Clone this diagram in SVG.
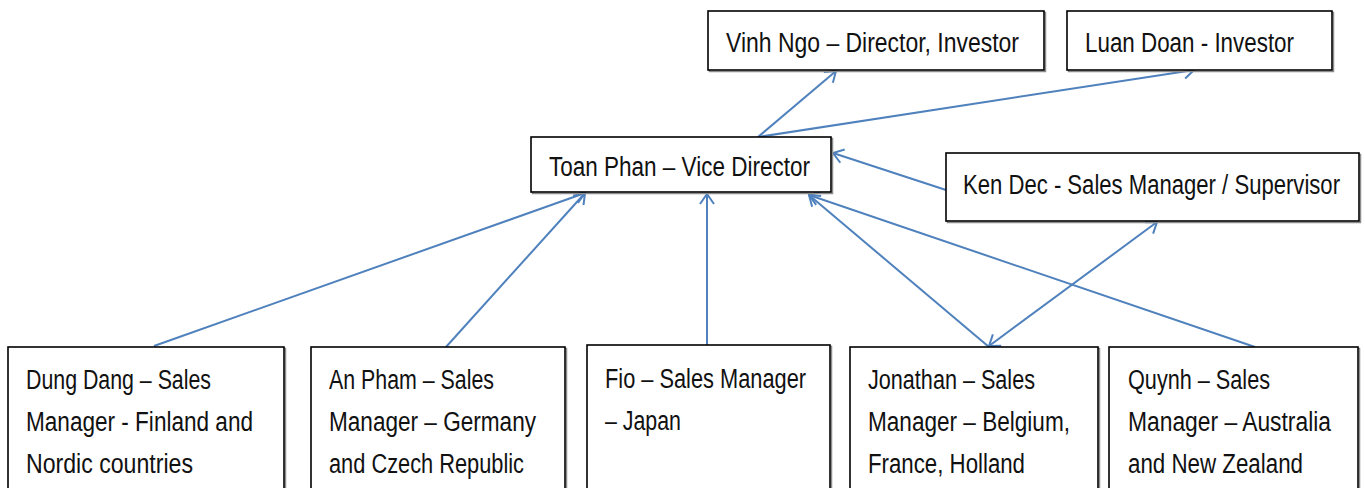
<svg xmlns="http://www.w3.org/2000/svg" width="1365" height="488" viewBox="0 0 1365 488">
<style>
  .box { fill: #ffffff; stroke: #000000; stroke-width: 1.6; }
  .shadow { fill: none; stroke: #8c8c8c; stroke-width: 1.5; }
  .t { font-family: "Liberation Sans", Arial, sans-serif; font-size: 22px; fill: #111111; }
  .c { stroke: #4F81BD; stroke-width: 2; fill: none; }
</style>
<defs>
  <marker id="arr" viewBox="0 0 12 16" refX="11" refY="8" markerWidth="12" markerHeight="16" markerUnits="userSpaceOnUse" orient="auto-start-reverse">
    <path d="M1,1 L11,8 L1,15" fill="none" stroke="#4F81BD" stroke-width="2"/>
  </marker>
</defs>
<rect width="1365" height="488" fill="#ffffff"/>

<g id="connectors">
  <line class="c" x1="758" y1="137" x2="836" y2="71" marker-end="url(#arr)"/>
  <line class="c" x1="758" y1="137" x2="1194" y2="70" marker-end="url(#arr)"/>
  <line class="c" x1="946" y1="190" x2="833" y2="153" marker-end="url(#arr)"/>
  <line class="c" x1="154" y1="346" x2="585" y2="193" marker-end="url(#arr)"/>
  <line class="c" x1="446" y1="347" x2="585" y2="193" marker-end="url(#arr)"/>
  <line class="c" x1="707" y1="345" x2="707" y2="194" marker-end="url(#arr)"/>
  <line class="c" x1="989" y1="347" x2="809" y2="195" marker-end="url(#arr)"/>
  <line class="c" x1="1255" y1="347" x2="809" y2="195" marker-end="url(#arr)"/>
  <line class="c" x1="989" y1="346" x2="1157" y2="222" marker-start="url(#arr)" marker-end="url(#arr)"/>
</g>

<g id="node-vinh">
  <rect class="shadow" x="709.5" y="12.5" width="336" height="59"/>
  <rect class="box" x="708" y="11" width="336" height="59"/>
  <text class="t" transform="translate(726,52) scale(1,1.227)" textLength="293" lengthAdjust="spacingAndGlyphs">Vinh Ngo – Director, Investor</text>
</g>

<g id="node-luan">
  <rect class="shadow" x="1068.5" y="12.5" width="265" height="59"/>
  <rect class="box" x="1067" y="11" width="265" height="59"/>
  <text class="t" transform="translate(1085,52) scale(1,1.227)" textLength="209" lengthAdjust="spacingAndGlyphs">Luan Doan - Investor</text>
</g>

<g id="node-toan">
  <rect class="shadow" x="532.5" y="138.5" width="300" height="55"/>
  <rect class="box" x="531" y="137" width="300" height="55"/>
  <text class="t" transform="translate(549,176) scale(1,1.227)" textLength="261" lengthAdjust="spacingAndGlyphs">Toan Phan – Vice Director</text>
</g>

<g id="node-ken">
  <rect class="shadow" x="947.5" y="154.5" width="413" height="68"/>
  <rect class="box" x="946" y="153" width="413" height="68"/>
  <text class="t" transform="translate(963,194) scale(1,1.227)" textLength="377" lengthAdjust="spacingAndGlyphs">Ken Dec - Sales Manager / Supervisor</text>
</g>

<g id="node-dung">
  <rect class="shadow" x="9.5" y="348.5" width="276" height="160"/>
  <rect class="box" x="8" y="347" width="276" height="160"/>
  <text class="t" transform="translate(26,389) scale(1,1.227)" textLength="185" lengthAdjust="spacingAndGlyphs">Dung Dang – Sales</text>
  <text class="t" transform="translate(26,431) scale(1,1.227)" textLength="227" lengthAdjust="spacingAndGlyphs">Manager - Finland and</text>
  <text class="t" transform="translate(26,473) scale(1,1.227)" textLength="167" lengthAdjust="spacingAndGlyphs">Nordic countries</text>
</g>

<g id="node-an">
  <rect class="shadow" x="312.5" y="348.5" width="254" height="160"/>
  <rect class="box" x="311" y="347" width="254" height="160"/>
  <text class="t" transform="translate(329,389) scale(1,1.227)" textLength="165" lengthAdjust="spacingAndGlyphs">An Pham – Sales</text>
  <text class="t" transform="translate(329,431) scale(1,1.227)" textLength="207" lengthAdjust="spacingAndGlyphs">Manager – Germany</text>
  <text class="t" transform="translate(329,473) scale(1,1.227)" textLength="195" lengthAdjust="spacingAndGlyphs">and Czech Republic</text>
</g>

<g id="node-fio">
  <rect class="shadow" x="588.5" y="346.5" width="243" height="160"/>
  <rect class="box" x="587" y="345" width="243" height="160"/>
  <text class="t" transform="translate(605,388) scale(1,1.227)" textLength="201" lengthAdjust="spacingAndGlyphs">Fio – Sales Manager</text>
  <text class="t" transform="translate(605,430) scale(1,1.227)" textLength="76" lengthAdjust="spacingAndGlyphs">– Japan</text>
</g>

<g id="node-jonathan">
  <rect class="shadow" x="851.5" y="348.5" width="248" height="160"/>
  <rect class="box" x="850" y="347" width="248" height="160"/>
  <text class="t" transform="translate(868,389) scale(1,1.227)" textLength="167" lengthAdjust="spacingAndGlyphs">Jonathan – Sales</text>
  <text class="t" transform="translate(868,431) scale(1,1.227)" textLength="202" lengthAdjust="spacingAndGlyphs">Manager – Belgium,</text>
  <text class="t" transform="translate(868,473) scale(1,1.227)" textLength="157" lengthAdjust="spacingAndGlyphs">France, Holland</text>
</g>

<g id="node-quynh">
  <rect class="shadow" x="1110.5" y="348.5" width="249" height="160"/>
  <rect class="box" x="1109" y="347" width="249" height="160"/>
  <text class="t" transform="translate(1128,389) scale(1,1.227)" textLength="142" lengthAdjust="spacingAndGlyphs">Quynh – Sales</text>
  <text class="t" transform="translate(1128,431) scale(1,1.227)" textLength="203" lengthAdjust="spacingAndGlyphs">Manager – Australia</text>
  <text class="t" transform="translate(1128,473) scale(1,1.227)" textLength="175" lengthAdjust="spacingAndGlyphs">and New Zealand</text>
</g>
</svg>
